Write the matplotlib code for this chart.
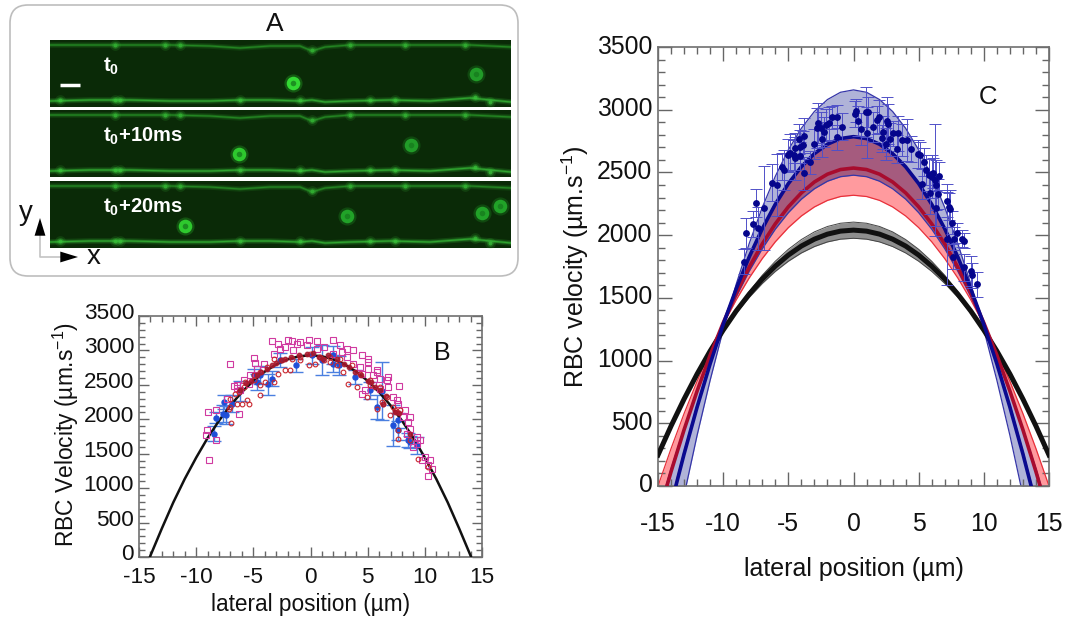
#!/usr/bin/env python
# -*- coding: utf-8 -*-
import numpy as np
import matplotlib
matplotlib.use('Agg')
import matplotlib.pyplot as plt
from matplotlib.patches import FancyBboxPatch
from matplotlib.ticker import MultipleLocator
from matplotlib.transforms import ScaledTranslation

plt.rcParams['font.family'] = ['Liberation Sans', 'DejaVu Sans']
plt.rcParams['mathtext.fontset'] = 'custom'
plt.rcParams['mathtext.rm'] = 'Liberation Sans'
plt.rcParams['mathtext.bf'] = 'Liberation Sans:bold'
plt.rcParams['mathtext.default'] = 'regular'
plt.rcParams['axes.unicode_minus'] = False

W, H = 1079, 617

# ---- panel A, micrograph frames (pixels inside a frame)
frame_tops = [40, 110, 181]
frame_labels = [r'$\mathbf{t_0}$', r'$\mathbf{t_0}$+10ms', r'$\mathbf{t_0}$+20ms']
frame_cells = [[(243, 43, '#35e035'), (426, 34, '#22a02a')],
               [(189, 44, '#30d030'), (361, 35, '#22a02a')],
               [(135, 45, '#30d030'), (297, 35, '#22a82a'), (432, 32, '#22a82a'), (450, 25, '#22a82a')]]
wall_x = [0, 40, 80, 120, 160, 190, 220, 250, 262, 275, 300, 340, 380, 420, 461]
wall_top = [5, 5, 5, 5, 6, 8, 6, 6, 11, 7, 5, 5, 5, 5, 7]
wall_bot = [61, 60, 60, 61, 61, 60, 60, 61, 60, 62, 61, 60, 61, 58, 62]
node_x = [65, 115, 130, 262, 300, 355, 415, 10, 65, 70, 190, 250, 320, 345, 425, 440]
node_y = [5, 5, 5, 10, 5, 5, 5, 60, 60, 60, 60, 60, 60, 60, 57, 62]

# ---- panel B
curve_b_x = [0, 1, 2, 3, 4, 5, 6, 7, 8, 9, 10, 11, 12, 13, 14, 14.05]
curve_b_y = [2930, 2915, 2871, 2796, 2692, 2558, 2395, 2202, 1980, 1728, 1443, 1134, 793, 415, 20, 0]

square_x = [-8.97, -9.06, -9.12, -8.91, -8.24, -8.24, -7.02, -6.29, -6.73, -6.44, -4.98, -4.89, -3.38, -2.80, -2.01,
            -1.63, -0.90, -0.17, 0.55, 1.95, 2.59, 3.18, 3.76, 4.49, 5.07, 5.80, 6.82, 7.78, 8.27, 8.71,
            8.56, 9.58, 10.46, 10.60, 10.25, 9.73, 9.29, 8.42, 6.82, 6.09, 5.07, 4.49, 4.49, 4.78, 3.76,
            3.18, 2.01, 1.14, -0.32, -1.49, -2.21, -3.23, -4.11, -4.69, -5.27, -5.85, -6.44, -7.31, 7.25, 7.69,
            6.67, 5.51, 5.80, 8.13, 8.71, 9.29, 9.00, 10.02, 10.31, 6.09, 4.34, 2.74, 0.55, -1.19, -2.65,
            -6.15, -5.42, 5.07, 5.51, 7.54]
square_y = [2110, 1849, 1767, 1404, 1704, 2130, 2798, 2077, 2478, 2459, 2894, 2822, 3137, 3098, 3156,
            3137, 3122, 3146, 3137, 3146, 3074, 3025, 3001, 2928, 2832, 2711, 2614, 2478, 2130, 2033,
            1960, 1694, 1404, 1283, 1171, 1404, 1646, 1791, 2469, 2590, 2735, 2662, 2372, 2420, 2807,
            2904, 2953, 3049, 3074, 3001, 3049, 2953, 2807, 2735, 2638, 2565, 2493, 2299, 2323, 2227,
            2565, 2493, 2686, 2033, 1864, 1743, 1597, 1452, 1331, 2444, 2759, 2977, 3025, 3098, 3025,
            2420, 2517, 2880, 2638, 2275]

circle_x = [-6.93, -4.46, -5.42, -5.56, -6.00, -6.44, -7.17, -7.02, -6.58, -5.85, -4.98, -4.40, -3.96, -3.23, -2.88,
            -2.21, -1.78, -0.90, -0.17, 0.41, 1.14, 1.72, 2.30, 2.88, 3.32, 4.05, 4.92, 5.80, 6.38, 6.96,
            7.69, 7.69, 9.44, 10.31, 8.71, 7.84, 7.25, 6.67, 6.09, 5.21, 4.34, 3.61, 2.59, 1.72, 0.84,
            -0.03, -0.90, -1.63, -2.51, -3.23, -3.82, -4.40, -4.98, -5.71, -6.29, -7.02, 5.21, 6.23, 7.54, 7.40]
circle_y = [1946, 2357, 2227, 2285, 2217, 2227, 2154, 2299, 2372, 2469, 2565, 2493, 2541, 2541, 2653,
            2711, 2711, 2856, 2783, 2798, 2856, 2832, 2783, 2686, 2507, 2469, 2323, 2154, 2227, 2057,
            1718, 1839, 1428, 1307, 1694, 2130, 2178, 2323, 2469, 2565, 2662, 2783, 2880, 2904, 2904,
            2953, 2904, 2880, 2856, 2880, 2759, 2686, 2638, 2541, 2396, 2178, 2493, 2251, 2106, 2130]

dense_x = [-6.2, -5.6, -5.2, -4.7, -4.3, -3.8, -3.4, -3.0, -2.6, -2.2, -1.7, -1.0, -0.3, 0.2, 0.7, 1.1,
           1.5, 2.3, 2.9, 3.4, 3.9, 4.4, 5.0, 5.3, 5.6, 6.1, 6.3, 6.6, 7.4, 7.7, 8.7]
dense_y = [2430, 2520, 2560, 2640, 2680, 2730, 2790, 2820, 2860, 2870, 2900, 2930, 2950, 2960, 2900, 2870,
           2930, 2880, 2800, 2760, 2680, 2640, 2560, 2540, 2470, 2430, 2220, 2340, 2100, 2090, 1780]

dot_x = [-8.42, -8.24, -7.66, -7.37, -7.54, -6.87, -6.15, -4.98, -4.40, -3.76, -3.38, -1.25, 0.12, 0.99, 2.01,
         2.45, 3.90, 5.21, 5.80, 6.23, 7.25, 7.69, 7.69, 8.56, 9.29, 8.71, -4.69, -2.65, 2.01]
dot_y = [1791, 2023, 2081, 2057, 2251, 2227, 2410, 2638, 2638, 2507, 2590, 2783, 2928, 2856, 2928,
         2783, 2614, 2420, 2178, 2408, 1912, 1839, 1985, 1694, 1622, 1670, 2541, 2856, 2807]
dot_err = [110, 80, 120, 130, 100, 120, 150, 90, 130, 150, 110, 90, 120, 220, 130,
           140, 100, 120, 180, 420, 300, 140, 110, 100, 120, 90, 110, 100, 120]

# ---- panel C, fitted profiles at |x| = 0..15 and their bands
curve_x = list(range(16))
blue_mid = [2785, 2770, 2725, 2650, 2545, 2411, 2246, 2051, 1827, 1572, 1288, 974, 629, 255, -149, -584]
blue_up = [3158, 3139, 3081, 2986, 2852, 2680, 2469, 2221, 1934, 1609, 1245, 843, 404, -75, -590, -1145]
blue_low = [2478, 2466, 2430, 2370, 2287, 2179, 2048, 1892, 1713, 1510, 1283, 1032, 757, 459, 136, -210]
red_mid = [2535, 2523, 2486, 2424, 2337, 2226, 2090, 1930, 1745, 1536, 1300, 1043, 757, 448, 114, -244]
red_up = [2790, 2775, 2731, 2656, 2552, 2418, 2255, 2062, 1839, 1586, 1304, 991, 649, 277, -125, -555]
red_low = [2318, 2308, 2277, 2225, 2153, 2060, 1947, 1813, 1659, 1484, 1288, 1072, 835, 577, 298, 0]
black_mid = [2040, 2032, 2008, 1968, 1913, 1841, 1753, 1650, 1530, 1395, 1243, 1076, 893, 693, 478, 247]
black_up = [2104, 2095, 2069, 2026, 1965, 1887, 1792, 1680, 1550, 1403, 1238, 1090, 905, 705, 490, 262]
black_low = [1975, 1968, 1946, 1909, 1858, 1792, 1711, 1615, 1504, 1380, 1241, 1066, 882, 682, 467, 232]

c_x = [-8.41, -8.26, -7.69, -7.51, -7.31, -6.85, -6.23, -5.90, -5.46, -5.31, -5.05, -4.90, -4.59, -4.49, -4.46,
       -4.21, -4.13, -3.87, -4.08, -3.79, -3.77, -3.36, -3.05, -2.77, -2.72, -2.46, -2.38, -2.23, -2.08, -1.90,
       -1.64, -1.26, -0.92, -1.23, 0.15, 0.23, 0.36, 0.54, 0.95, 1.10, 1.00, 1.46, 1.77, 1.95, 2.15,
       2.23, 2.54, 2.64, 2.46, 2.82, 3.00, 3.31, 3.44, 3.74, 4.08, 4.38, 4.92, 5.10, 5.44, 5.56,
       5.82, 6.08, 6.00, 6.26, 6.33, 6.54, 5.23, 5.90, 6.46, 6.33, 7.21, 7.31, 7.38, 7.59, 7.92,
       7.72, 8.36, 8.46, 7.21, 7.67, 8.51, 9.00, 9.10, 9.46]
c_y = [1788, 2020, 2089, 2254, 2054, 2216, 2419, 2400, 2546, 2520, 2639, 2653, 2639, 2613, 2693,
       2764, 2706, 2719, 2631, 2791, 2493, 2581, 2727, 2852, 2892, 2852, 2764, 2825, 2879, 2892,
       2940, 2945, 2865, 2780, 2966, 2993, 2911, 2847, 2985, 2982, 2818, 2865, 2919, 2945, 2772,
       2820, 2913, 2884, 2727, 2764, 2812, 2687, 2812, 2759, 2759, 2687, 2645, 2639, 2581, 2520,
       2480, 2498, 2466, 2440, 2400, 2472, 2408, 2339, 2328, 2214, 2275, 2227, 2211, 2099, 2020,
       1972, 1972, 1956, 1972, 1828, 1743, 1714, 1679, 1610]
c_err = [100, 120, 100, 110, 170, 335, 150, 250, 110, 160, 130, 150, 120, 170, 120,
         120, 130, 110, 110, 140, 130, 90, 120, 160, 160, 130, 140, 120, 130, 130,
         90, 90, 110, 100, 100, 90, 120, 130, 200, 120, 200, 120, 110, 130, 110,
         130, 190, 160, 130, 130, 100, 110, 140, 130, 165, 100, 110, 100, 110, 120,
         130, 120, 170, 445, 200, 110, 120, 170, 120, 140, 130, 110, 150, 90, 80,
         90, 70, 60, 370, 100, 110, 120, 100, 100]


def px_axes(fig, left, top, right, bottom, **kw):
    return fig.add_axes([left / W, 1 - bottom / H, (right - left) / W, (bottom - top) / H], **kw)


def style_axes(ax, fontsize, major_len, minor_len, xpad, ypad, yshift):
    ax.set_xlim(-15, 15)
    ax.set_ylim(0, 3500)
    ax.xaxis.set_major_locator(MultipleLocator(5))
    ax.xaxis.set_minor_locator(MultipleLocator(1))
    ax.yaxis.set_major_locator(MultipleLocator(500))
    ax.yaxis.set_minor_locator(MultipleLocator(100))
    ax.tick_params(which='major', direction='in', top=True, right=True, length=major_len, width=1,
                   color='#666666', labelsize=fontsize, labelcolor='#111111')
    ax.tick_params(which='minor', direction='in', top=True, right=True, length=minor_len, width=1, color='#666666')
    ax.tick_params(axis='x', which='major', pad=xpad)
    ax.tick_params(axis='y', which='major', pad=ypad)
    for s in ax.spines.values():
        s.set_color('#707070')
        s.set_linewidth(1.2)
    # the y tick labels sit a little above their ticks in the figure
    up = ScaledTranslation(0, yshift / 100, ax.figure.dpi_scale_trans)
    for lab in ax.get_yticklabels():
        lab.set_transform(lab.get_transform() + up)


def mirror(x, y):
    x = np.array(x, dtype=float)
    y = np.array(y, dtype=float)
    return np.r_[-x[:0:-1], x], np.r_[y[:0:-1], y]


def draw_frame(fig, top, label, cells):
    ax = px_axes(fig, 50, top, 511, top + 67)
    ax.set_xlim(0, 461)
    ax.set_ylim(67, 0)
    ax.set_facecolor('#0a2a07')
    ax.set_xticks([])
    ax.set_yticks([])
    for s in ax.spines.values():
        s.set_visible(False)
    for lw, a in [(4, 0.18), (2, 0.4), (0.8, 0.6)]:
        ax.plot(wall_x, wall_top, color='#2fae2f', lw=lw, alpha=a * 0.8)
        ax.plot(wall_x, wall_bot, color='#39c43a', lw=lw, alpha=a)
    for s, a in [(60, 0.12), (25, 0.22), (8, 0.55)]:
        ax.scatter(node_x, node_y, s=s, color='#45e045', alpha=a, linewidths=0)
    for cx, cy, col in cells:
        ax.scatter([cx], [cy], s=170, color=col, alpha=0.25, linewidths=0)
        ax.scatter([cx], [cy], s=95, color=col, alpha=0.95, linewidths=0)
        ax.scatter([cx], [cy], s=16, color='#157a1c', alpha=0.75, linewidths=0)
    ax.text(53, 26, label, color='white', fontsize=14.5, fontweight='bold', va='center')
    return ax


def main():
    fig = plt.figure(figsize=(W / 100, H / 100), dpi=100, facecolor='white')

    # overlay in pixel units for panel A furniture
    over = fig.add_axes([0, 0, 1, 1])
    over.set_xlim(0, W)
    over.set_ylim(H, 0)
    over.axis('off')
    over.add_patch(FancyBboxPatch((10, 5), 508, 271, boxstyle='round,pad=0,rounding_size=18',
                                  fc='white', ec='#bdbdbd', lw=1.2))
    over.text(275, 24, 'A', fontsize=19, ha='center', va='center', color='#111111')
    over.text(26, 213, 'y', fontsize=20, ha='center', va='center', color='#111111')
    over.text(94, 257, 'x', fontsize=20, ha='center', va='center', color='#111111')
    over.plot([40, 40, 64], [232, 257, 257], color='#c4c4c4', lw=1.2)
    head = dict(arrowstyle='-|>,head_length=0.85,head_width=0.26', color='black', lw=0, mutation_scale=15,
                shrinkA=0, shrinkB=0)
    over.annotate('', xy=(40, 218), xytext=(40, 233), arrowprops=head)
    over.annotate('', xy=(78, 257), xytext=(62, 257), arrowprops=head)

    for top, label, cells in zip(frame_tops, frame_labels, frame_cells):
        ax = draw_frame(fig, top, label, cells)
        if top == frame_tops[0]:
            ax.plot([10, 30], [45, 45], color='white', lw=2.5, solid_capstyle='butt')

    # panel B
    axb = px_axes(fig, 139, 316, 482, 557)
    style_axes(axb, 16.2, 7, 4, 7, 3.5, 5)
    axb.errorbar(dot_x, dot_y, yerr=dot_err, fmt='none', ecolor='#4a7fe0', elinewidth=1, capsize=5, capthick=1, zorder=2)
    axb.plot(*mirror(curve_b_x, curve_b_y), color='#111111', lw=1.8, zorder=3)
    axb.plot(dot_x, dot_y, 'o', color='#1f4fd8', ms=3.6, zorder=4)
    axb.plot(square_x, square_y, 's', mfc='none', mec='#d03aa0', ms=3.8, mew=0.8, zorder=5)
    axb.plot(circle_x, circle_y, 'o', mfc='none', mec='#c8262e', ms=3.4, mew=0.8, zorder=6)
    axb.plot(dense_x, dense_y, 'o', mfc='#a8182c', mec='#a8182c', ms=3.2, alpha=0.85, zorder=6)
    axb.text(11.5, 2960, 'B', fontsize=18, ha='center', va='center', color='#111111')
    axb.set_xlabel('lateral position (µm)', fontsize=16.3, color='#111111', labelpad=4)
    axb.set_ylabel(r'RBC Velocity (µm.s$^{-1}$)', fontsize=16.4, color='#111111', labelpad=1.5)
    axb.yaxis.set_label_coords(-0.168, 0.51)

    # panel C
    axc = px_axes(fig, 658, 47, 1049, 486)
    style_axes(axc, 17.8, 10, 5, 18.5, 4, 3)
    x, bl = mirror(curve_x, blue_low)
    _, bu = mirror(curve_x, blue_up)
    _, bm = mirror(curve_x, blue_mid)
    _, rl = mirror(curve_x, red_low)
    _, ru = mirror(curve_x, red_up)
    _, rm = mirror(curve_x, red_mid)
    _, kl = mirror(curve_x, black_low)
    _, ku = mirror(curve_x, black_up)
    _, km = mirror(curve_x, black_mid)

    axc.fill_between(x, rl, ru, color='#ff9a9e', lw=0, zorder=1)
    axc.fill_between(x, bl, bu, color='#b0b3d8', lw=0, zorder=1.2)
    overlap_low = np.maximum(rl, bl)
    overlap_up = np.minimum(ru, bu)
    axc.fill_between(x, overlap_low, overlap_up, where=overlap_up >= overlap_low, color='#a55b7e', lw=0, zorder=1.4)
    axc.plot(x, rl, color='#e8303a', lw=0.9, zorder=2)
    axc.plot(x, ru, color='#e8303a', lw=0.9, zorder=2)
    axc.plot(x, bl, color='#3535a8', lw=0.9, zorder=2)
    axc.plot(x, bu, color='#3535a8', lw=0.9, zorder=2)
    axc.fill_between(x, kl, ku, color='#8e8e8e', lw=0, zorder=2)
    axc.plot(x, ku, color='#444444', lw=0.7, zorder=2)
    axc.plot(x, kl, color='#444444', lw=0.7, zorder=2)
    axc.plot(x, km, color='#111111', lw=3.6, zorder=3)
    axc.plot(x, rm, color='#a80c2e', lw=2.6, zorder=3)
    axc.plot(x, bm, color='#0a0a90', lw=2.6, zorder=3.2)
    axc.errorbar(c_x, c_y, yerr=c_err, fmt='none', ecolor='#5050c8', elinewidth=0.7, capsize=4, capthick=0.7, zorder=4)
    axc.plot(c_x, c_y, 'o', color='#05058c', ms=3.9, zorder=5)
    axc.text(10.3, 3100, 'C', fontsize=18.5, ha='center', va='center', color='#111111')
    axc.set_xlabel('lateral position (µm)', fontsize=18, color='#111111', labelpad=15)
    axc.set_ylabel(r'RBC velocity (µm.s$^{-1}$)', fontsize=18, color='#111111', labelpad=4)

    fig.savefig('out.png', dpi=100)


if __name__ == '__main__':
    main()
